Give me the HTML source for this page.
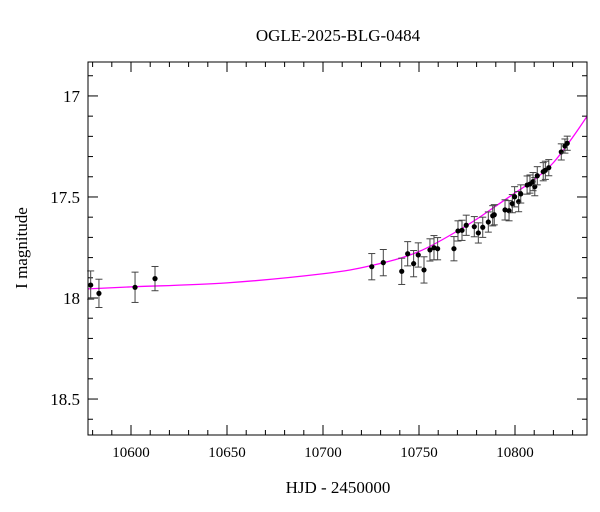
<!DOCTYPE html>
<html><head><meta charset="utf-8"><style>
body{margin:0;background:#fff}
svg{display:block;font-family:"Liberation Serif",serif}
</style></head><body>
<svg id="chart" width="600" height="512">
<text x="338" y="41" text-anchor="middle" font-size="17">OGLE-2025-BLG-0484</text>
<text x="338" y="493" text-anchor="middle" font-size="17">HJD - 2450000</text>
<text transform="translate(27,248) rotate(-90)" text-anchor="middle" font-size="17">I magnitude</text>
<g id="ticks"></g><g id="model"></g><g id="points"></g>
<rect x="88" y="62" width="499" height="373" fill="none" stroke="#000" stroke-width="1"/>
</svg>
<script>
const days=[10579.0,10583.3,10602.1,10612.5,10725.4,10731.4,10741.0,10744.1,10747.2,10749.6,10752.6,10755.7,10757.8,10759.7,10768.2,10770.3,10772.4,10774.6,10778.8,10780.9,10783.2,10786.1,10788.4,10789.2,10794.8,10796.9,10798.6,10799.8,10801.9,10803.0,10806.3,10807.8,10809.4,10810.3,10811.6,10814.7,10815.8,10817.6,10824.1,10826.0,10827.2];
const mags=[17.936,17.977,17.947,17.904,17.845,17.825,17.868,17.781,17.830,17.787,17.861,17.762,17.751,17.756,17.756,17.668,17.665,17.640,17.647,17.678,17.650,17.624,17.593,17.588,17.564,17.568,17.533,17.499,17.523,17.485,17.441,17.436,17.424,17.449,17.395,17.375,17.368,17.355,17.277,17.248,17.234];
const errs=[0.07,0.07,0.075,0.06,0.065,0.065,0.065,0.06,0.065,0.06,0.065,0.055,0.06,0.055,0.06,0.05,0.05,0.05,0.05,0.05,0.05,0.05,0.05,0.05,0.05,0.05,0.045,0.05,0.05,0.045,0.045,0.045,0.045,0.045,0.045,0.045,0.045,0.04,0.04,0.035,0.035];
const modelDays=[10577,10600,10650,10700,10725,10750,10775,10790,10800,10810,10820,10830,10838];
const modelMags=[17.955,17.945,17.925,17.88,17.84,17.77,17.64,17.545,17.48,17.415,17.33,17.205,17.094];
const xTicks=[10600,10650,10700,10750,10800];
const yTicks=[17,17.5,18,18.5];
const X0=88,X1=587,Y0=62,Y1=435,D0=10577.6,D1=10837.5,M0=16.832,M1=18.678;
const xs=d=>X0+(d-D0)/(D1-D0)*(X1-X0);
const ys=m=>Y0+(m-M0)/(M1-M0)*(Y1-Y0);
const NS="http://www.w3.org/2000/svg";
function mk(tag,attrs,parent){const e=document.createElementNS(NS,tag);for(const k in attrs)e.setAttribute(k,attrs[k]);parent.appendChild(e);return e;}
const tg=document.getElementById('ticks');
for(let d=10580;d<=D1;d+=10){const x=xs(d);const major=d%50===0;const L=major?10:5;
 const t1=mk('line',{x1:x,x2:x,y1:Y1,y2:Y1-L,stroke:'#000'},tg);
 const t2=mk('line',{x1:x,x2:x,y1:Y0,y2:Y0+L,stroke:'#000'},tg);}
xTicks.forEach(d=>{const t=mk('text',{x:xs(d),y:Y1+22,'text-anchor':'middle','font-size':15},tg);t.textContent=d;
 });
for(let i=169;i<=186;i++){const m=i/10;const y=ys(m);const major=i%5===0;const L=major?10:5;
 const t1=mk('line',{x1:X0,x2:X0+L,y1:y,y2:y,stroke:'#000'},tg);
 const t2=mk('line',{x1:X1,x2:X1-L,y1:y,y2:y,stroke:'#000'},tg);}
yTicks.forEach(m=>{const t=mk('text',{x:X0-8,y:ys(m)+6,'text-anchor':'end','font-size':17},tg);t.textContent=String(m);
 });
const mg=document.getElementById('model');
const pts=modelDays.map((d,i)=>[xs(d),ys(modelMags[i])]);
let p='M'+pts[0][0]+','+pts[0][1];
for(let i=0;i<pts.length-1;i++){const a=pts[i-1]||pts[i],b=pts[i],c=pts[i+1],e=pts[i+2]||c;
 p+=' C'+(b[0]+(c[0]-a[0])/6)+','+(b[1]+(c[1]-a[1])/6)+' '+(c[0]-(e[0]-b[0])/6)+','+(c[1]-(e[1]-b[1])/6)+' '+c[0]+','+c[1];}
mk('clipPath',{id:'cp'},mg).appendChild(document.createElementNS(NS,'rect'));
const cr=mg.querySelector('rect');cr.setAttribute('x',X0);cr.setAttribute('y',Y0);cr.setAttribute('width',X1-X0);cr.setAttribute('height',Y1-Y0);
const ml=mk('path',{d:p,fill:'none',stroke:'#ff00ff','stroke-width':1.3,'clip-path':'url(#cp)'},mg);


const pg=document.getElementById('points');
days.forEach((d,i)=>{const x=xs(d),y=ys(mags[i]),ya=ys(mags[i]-errs[i]),yb=ys(mags[i]+errs[i]);
 const g=mk('g',{},pg);
 
 
 mk('line',{x1:x,x2:x,y1:ya,y2:yb,stroke:'#444','stroke-width':1},g);
 mk('line',{x1:x-3.5,x2:x+3.5,y1:ya,y2:ya,stroke:'#444','stroke-width':1},g);
 mk('line',{x1:x-3.5,x2:x+3.5,y1:yb,y2:yb,stroke:'#444','stroke-width':1},g);
 mk('circle',{cx:x,cy:y,r:2.6,fill:'#000'},g);});
</script>
</body></html>
